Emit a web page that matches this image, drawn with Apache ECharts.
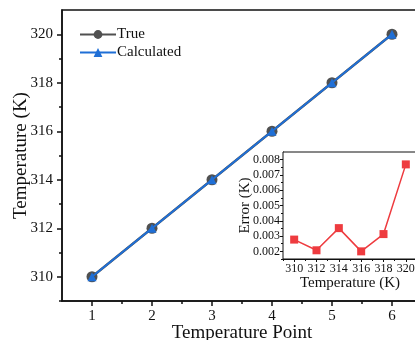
<!DOCTYPE html>
<html>
<head>
<meta charset="utf-8">
<script src="https://cdn.jsdelivr.net/npm/echarts@6/dist/echarts.min.js"></script>
<style>
  html, body { margin: 0; padding: 0; background: #fff; }
  #chart { width: 415px; height: 340px; }
</style>
</head>
<body>
<div id="chart"></div>
<script>
// main plot
const points = [1, 2, 3, 4, 5, 6]
const trueTemp = [310, 312, 314, 316, 318, 320]
const calcTemp = [310, 312, 314, 316, 318, 320]
const xMajor = [1, 2, 3, 4, 5, 6]
const xMinor = [1.5, 2.5, 3.5, 4.5, 5.5]
const yMajor = [310, 312, 314, 316, 318, 320]
const yMinor = [309, 311, 313, 315, 317, 319]

// inset
const insetTemp = [310, 312, 314, 316, 318, 320]
const insetError = [0.00277, 0.00207, 0.00352, 0.00200, 0.00313, 0.00769]
const insetXMajor = [310, 312, 314, 316, 318, 320]
const insetXMinor = [309, 311, 313, 315, 317, 319]
const insetYMajor = [0.002, 0.003, 0.004, 0.005, 0.006, 0.007, 0.008]
const insetYMinor = [0.0015, 0.0025, 0.0035, 0.0045, 0.0055, 0.0065, 0.0075]

const FONT = 'Liberation Serif'
const BLACK = '#111'

function valAxis(opts) {
  // one axis with labels + major ticks, drawn from custom tick lists
  return {
    type: 'value',
    gridIndex: opts.grid,
    position: opts.position,
    min: opts.min,
    max: opts.max,
    name: opts.name,
    nameLocation: 'middle',
    nameGap: opts.nameGap,
    nameMoveOverlap: false,
    nameTextStyle: { fontFamily: FONT, fontSize: opts.nameSize, color: BLACK },
    splitLine: { show: false },
    axisLine: { show: true, onZero: false, lineStyle: { color: BLACK, width: opts.lineWidth } },
    axisTick: { show: true, inside: false, length: opts.tickLen, customValues: opts.major, lineStyle: { color: BLACK, width: opts.lineWidth } },
    axisLabel: {
      show: true, customValues: opts.major, margin: opts.margin,
      fontFamily: FONT, fontSize: opts.labelSize, color: BLACK,
      formatter: opts.formatter,
      showMinLabel: true, showMaxLabel: true
    }
  }
}

function minorAxis(opts) {
  return {
    type: 'value',
    gridIndex: opts.grid,
    position: opts.position,
    min: opts.min,
    max: opts.max,
    splitLine: { show: false },
    axisLine: { show: false, onZero: false },
    axisTick: { show: true, inside: false, length: opts.tickLen, customValues: opts.minor, lineStyle: { color: BLACK, width: opts.lineWidth } },
    axisLabel: { show: false }
  }
}

const chart = echarts.init(document.getElementById('chart'), null, { renderer: 'canvas' })

chart.setOption({
  animation: false,
  backgroundColor: '#fff',
  grid: [
    { left: 62, top: 10, right: -7, bottom: 39, outerBoundsMode: 'none', containLabel: false, show: true, borderColor: BLACK, borderWidth: 1.5, backgroundColor: 'transparent' },
    { left: 283, top: 152, right: -2, bottom: 81, outerBoundsMode: 'none', containLabel: false, show: true, borderColor: BLACK, borderWidth: 1, backgroundColor: '#fff', z: 5 }
  ],
  legend: {
    orient: 'vertical',
    left: 74,
    top: 22,
    itemWidth: 36,
    itemHeight: 11,
    itemGap: 3,
    textStyle: { fontFamily: FONT, fontSize: 15, color: BLACK, padding: [0, 0, 0, -4] },
    data: ['True', 'Calculated']
  },
  xAxis: [
    valAxis({ grid: 0, position: 'bottom', min: 0.5, max: 6.5, major: xMajor, name: 'Temperature Point', nameGap: 23, nameSize: 19, lineWidth: 1.5, tickLen: 5, margin: 8, labelSize: 15 }),
    minorAxis({ grid: 0, position: 'bottom', min: 0.5, max: 6.5, minor: xMinor, tickLen: 3, lineWidth: 1.5 }),
    valAxis({ grid: 1, position: 'bottom', min: 309, max: 321, major: insetXMajor, name: 'Temperature (K)', nameGap: 17, nameSize: 15, lineWidth: 1, tickLen: 3, margin: 4, labelSize: 12 }),
    minorAxis({ grid: 1, position: 'bottom', min: 309, max: 321, minor: insetXMinor, tickLen: 2, lineWidth: 1 })
  ],
  yAxis: [
    valAxis({ grid: 0, position: 'left', min: 309, max: 321, major: yMajor, name: 'Temperature (K)', nameGap: 31, nameSize: 19, lineWidth: 1.5, tickLen: 5, margin: 9, labelSize: 15 }),
    minorAxis({ grid: 0, position: 'left', min: 309, max: 321, minor: yMinor, tickLen: 3, lineWidth: 1.5 }),
    valAxis({ grid: 1, position: 'left', min: 0.0015, max: 0.0085, major: insetYMajor, name: 'Error (K)', nameGap: 30, nameSize: 15, lineWidth: 1, tickLen: 3, margin: 3, labelSize: 12, formatter: v => v.toFixed(3) }),
    minorAxis({ grid: 1, position: 'left', min: 0.0015, max: 0.0085, minor: insetYMinor, tickLen: 2, lineWidth: 1 })
  ],
  series: [
    {
      name: 'True',
      type: 'line',
      xAxisIndex: 0,
      yAxisIndex: 0,
      data: points.map((p, i) => [p, trueTemp[i]]),
      symbol: 'circle',
      symbolSize: 11,
      color: '#505050',
      lineStyle: { color: '#505050', width: 2.5 },
      itemStyle: { color: '#505050' },
      z: 2
    },
    {
      name: 'Calculated',
      type: 'line',
      xAxisIndex: 0,
      yAxisIndex: 0,
      data: points.map((p, i) => [p, calcTemp[i]]),
      symbol: 'triangle',
      symbolSize: 9,
      color: '#1f6fd6',
      lineStyle: { color: '#1f6fd6', width: 2 },
      itemStyle: { color: '#1f6fd6' },
      z: 3
    },
    {
      name: 'Error',
      type: 'line',
      xAxisIndex: 2,
      yAxisIndex: 2,
      data: insetTemp.map((t, i) => [t, insetError[i]]),
      symbol: 'rect',
      symbolSize: 8,
      color: '#ee3b3f',
      lineStyle: { color: '#ee3b3f', width: 1.5 },
      itemStyle: { color: '#ee3b3f' },
      z: 10
    }
  ]
})
</script>
</body>
</html>
